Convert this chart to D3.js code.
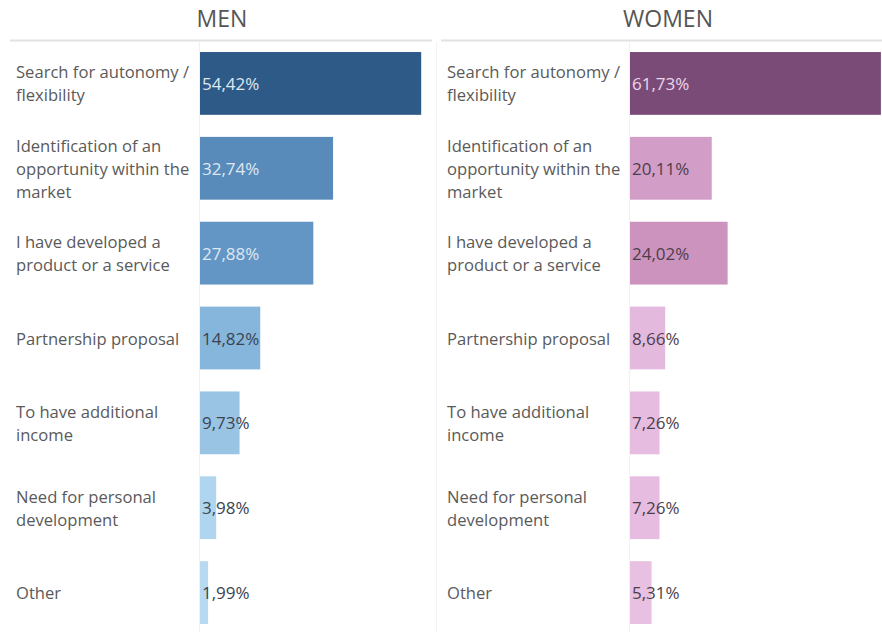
<!DOCTYPE html>
<html>
<head>
<meta charset="utf-8">
<script src="https://cdn.jsdelivr.net/npm/d3@7"></script>
<style>
  html, body { margin: 0; padding: 0; background: #ffffff; }
  svg { display: block; font-family: "Open Sans", "Noto Sans", sans-serif; }
</style>
</head>
<body>
<svg id="chart" width="882" height="632"></svg>
<script>
const categories = [
  "Search for autonomy / flexibility",
  "Identification of an opportunity within the market",
  "I have developed a product or a service",
  "Partnership proposal",
  "To have additional income",
  "Need for personal development",
  "Other"
];
const categoryLines = [
  ["Search for autonomy /", "flexibility"],
  ["Identification of an", "opportunity within the", "market"],
  ["I have developed a", "product or a service"],
  ["Partnership proposal"],
  ["To have additional", "income"],
  ["Need for personal", "development"],
  ["Other"]
];
const menValues   = [54.42, 32.74, 27.88, 14.82, 9.73, 3.98, 1.99];
const womenValues = [61.73, 20.11, 24.02, 8.66, 7.26, 7.26, 5.31];
const panelTitles = ["MEN", "WOMEN"];

const svg = d3.select("#chart");

const y = d3.scaleBand()
  .domain(categories)
  .range([41, 635])
  .paddingInner(0.26)
  .paddingOuter(0.13);

const fmt = v => d3.format(".2f")(v).replace(".", ",") + "%";

const panels = [
  {
    title: panelTitles[0], values: menValues,
    left: 10, right: 432, barX: 200, titleX: 222,
    color: d3.scaleLinear().domain([0, 15, 30, 55])
      .range(["#c0e0f4", "#85b5dc", "#5d91c1", "#2c5985"]).clamp(true),
    light: "#dfe8f2", dark: "#3a4452"
  },
  {
    title: panelTitles[1], values: womenValues,
    left: 441, right: 882, barX: 630, titleX: 668,
    color: d3.scaleLinear().domain([0, 8, 25, 62])
      .range(["#edcbe8", "#e5bbdf", "#cb91bc", "#7a4a77"]).clamp(true),
    light: "#ecd6ea", dark: "#4d3e4c"
  }
];

panels.forEach(p => {
  const g = svg.append("g");
  const x = d3.scaleLinear().domain([0, 62]).range([p.barX, p.barX + 252]);

  // header
  g.append("text")
    .attr("x", p.titleX).attr("y", 18)
    .attr("text-anchor", "middle").attr("dominant-baseline", "central")
    .attr("font-size", 23).attr("fill", "#555555")
    .text(p.title);

  g.append("line")
    .attr("x1", p.left).attr("x2", p.right)
    .attr("y1", 40.5).attr("y2", 40.5)
    .attr("stroke", "#e2e2e2").attr("stroke-width", 2);

  // divider between labels and bars
  g.append("line")
    .attr("x1", p.barX - 0.5).attr("x2", p.barX - 0.5)
    .attr("y1", 42).attr("y2", 632)
    .attr("stroke", "#f1f1f1").attr("stroke-width", 1);

  // category labels
  categories.forEach((c, i) => {
    const lines = categoryLines[i];
    const cy = y(c) + y.bandwidth() / 2;
    const t = g.append("text")
      .attr("font-size", 16.6).attr("fill", "#5a5a5a");
    lines.forEach((ln, j) => {
      t.append("tspan")
        .attr("x", p.left + 6)
        .attr("y", cy + (j - (lines.length - 1) / 2) * 23)
        .attr("dominant-baseline", "central")
        .text(ln);
    });
  });

  // bars
  g.selectAll("rect.bar")
    .data(p.values)
    .join("rect")
    .attr("class", "bar")
    .attr("x", x(0))
    .attr("y", (d, i) => y(categories[i]))
    .attr("width", d => x(d) - x(0))
    .attr("height", y.bandwidth())
    .attr("fill", d => p.color(d));

  // value labels
  g.selectAll("text.val")
    .data(p.values)
    .join("text")
    .attr("class", "val")
    .attr("x", x(0) + 2)
    .attr("y", (d, i) => y(categories[i]) + y.bandwidth() / 2)
    .attr("dominant-baseline", "central")
    .attr("font-size", 17)
    .attr("fill", d => d3.hsl(p.color(d)).l < 0.62 ? p.light : p.dark)
    .text(d => fmt(d));
});

// faint vertical separator between panels
svg.append("line")
  .attr("x1", 436.5).attr("x2", 436.5)
  .attr("y1", 42).attr("y2", 632)
  .attr("stroke", "#f3f3f3");
</script>
</body>
</html>
